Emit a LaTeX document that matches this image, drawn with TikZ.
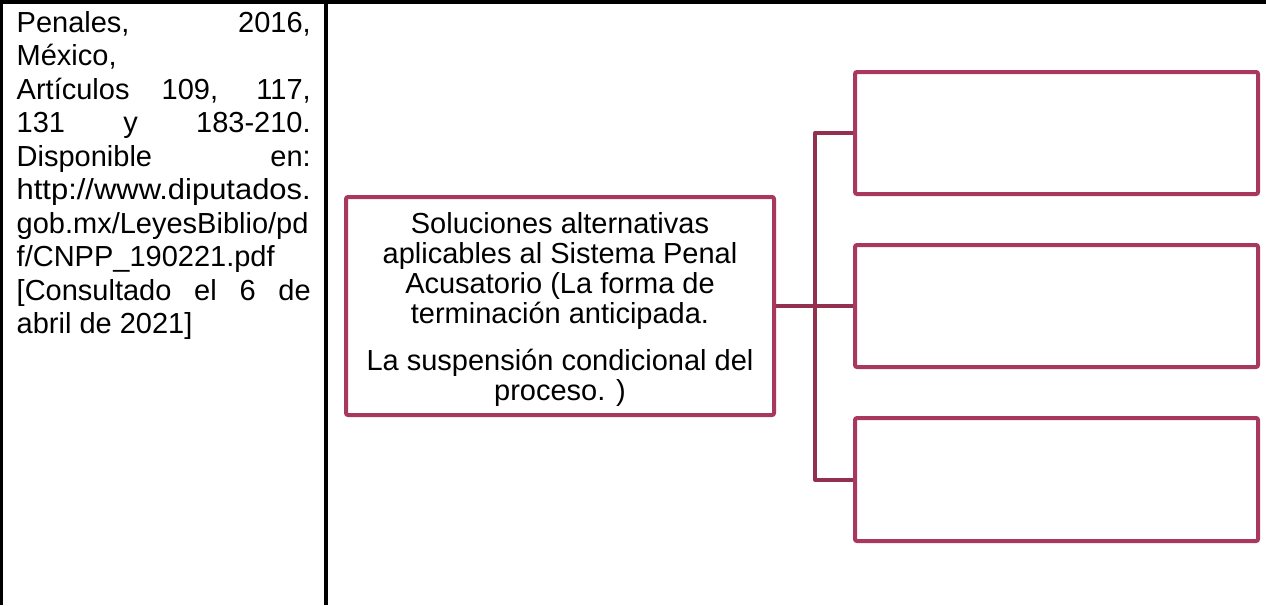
\documentclass[tikz,border=0pt]{standalone}
\usepackage{fontspec}
\setmainfont{Liberation Sans}
\definecolor{boxc}{HTML}{A8385E}
\definecolor{connc}{HTML}{933050}
\begin{document}
\begin{tikzpicture}[x=1pt,y=-1pt,
  rule/.style={line width=4pt,black},
  pbox/.style={draw=boxc,line width=4pt,rounded corners=2pt,fill=white,inner sep=0pt},
  conn/.style={draw=connc,line width=4pt},
  cell/.style={anchor=base west,inner sep=0pt,font=\fontsize{29}{30}\selectfont}]
\useasboundingbox (0,0) rectangle (1266,605);
% table rules
\draw[rule] (0,2) -- (1266,2);
\draw[line width=3pt] (1.5,0) -- (1.5,605);
\draw[rule] (326,0) -- (326,605);
% left column text
\node[cell] (l1) at (16.5,32.5) {\makebox[294pt][s]{Penales, 2016,}};
\node[cell] (l2) at (16.5,65.95) {México,};
\node[cell] (l3) at (16.5,99.4) {\makebox[294pt][s]{Artículos 109, 117,}};
\node[cell] (l4) at (16.5,132.85) {\makebox[294pt][s]{131 y 183-210.}};
\node[cell] (l5) at (16.5,166.3) {\makebox[294pt][s]{Disponible en:}};
\node[cell] (l6) at (16.5,199.75) {\resizebox{294pt}{\height}{http://www.diputados.}};
\node[cell] (l7) at (16.5,233.2) {gob.mx/LeyesBiblio/pd};
\node[cell] (l8) at (16.5,266.65) {f/CNPP\_190221.pdf};
\node[cell] (l9) at (16.5,300.1) {\makebox[294pt][s]{[Consultado el 6 de}};
\node[cell] (l10) at (16.5,333.55) {abril de 2021]};
% boxes
\node[pbox,minimum width=428pt,minimum height=218pt,align=center,
  font=\fontsize{29}{30}\selectfont] (main) at (560,306)
  {\rule{0pt}{28pt}Soluciones alternativas\\aplicables al Sistema Penal\\Acusatorio (La forma de\\terminación anticipada.\\[17pt]La suspensión condicional del\\proceso. )};
\node[pbox,minimum width=403pt,minimum height=122pt] (b1) at (1056.5,133) {};
\node[pbox,minimum width=403pt,minimum height=122pt] (b2) at (1056.5,306) {};
\node[pbox,minimum width=403pt,minimum height=123pt] (b3) at (1056.5,479.5) {};
\coordinate (trunk) at (815,306);
% connectors
\draw[conn] (main.east) -- (b2.west);
\draw[conn,line join=round] (b1.west) -- (b1.west -| trunk) -- (b3.west -| trunk) -- (b3.west);
\end{tikzpicture}
\end{document}
